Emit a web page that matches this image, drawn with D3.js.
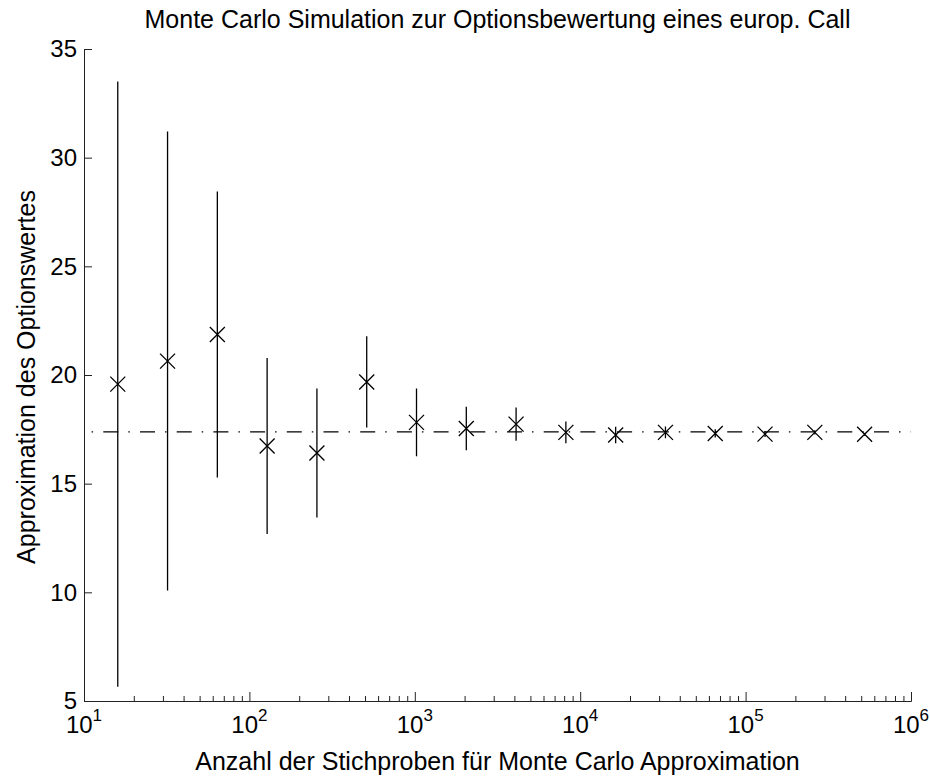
<!DOCTYPE html>
<html>
<head>
<meta charset="utf-8">
<script src="https://cdn.jsdelivr.net/npm/d3@7/dist/d3.min.js"></script>
<style>
  html, body { margin: 0; padding: 0; background: #fff; }
  svg { display: block; font-family: "Liberation Sans", Arial, sans-serif; }
</style>
</head>
<body>
<svg id="chart" width="930" height="776"></svg>
<script>
// Sample sizes (2^4 ... 2^19)
const sampleSizes = [16, 32, 64, 128, 256, 512, 1024, 2048, 4096, 8192,
                     16384, 32768, 65536, 131072, 262144, 524288];
// Monte Carlo estimates of the call price
const estimates = [19.58, 20.64, 21.86, 16.73, 16.41, 19.68, 17.82, 17.54,
                   17.74, 17.36, 17.24, 17.36, 17.31, 17.28, 17.36, 17.27];
// Half-widths of the confidence intervals
const halfWidths = [13.92, 10.56, 6.58, 4.05, 2.97, 2.10, 1.56, 1.00,
                    0.76, 0.50, 0.38, 0.27, 0.19, 0.13, 0.095, 0.067];
// Exact (Black-Scholes) value
const exactValue = 17.38;

const yTicks = [5, 10, 15, 20, 25, 30, 35];
const xMajorExps = [1, 2, 3, 4, 5, 6];

const titleText = "Monte Carlo Simulation zur Optionsbewertung eines europ. Call";
const xLabelText = "Anzahl der Stichproben für Monte Carlo Approximation";
const yLabelText = "Approximation des Optionswertes";

const plotLeft = 84, plotRight = 911, plotTop = 49, plotBottom = 701;
const fontSize = 25;

const svg = d3.select("#chart");
const x = d3.scaleLog().domain([10, 1e6]).range([plotLeft, plotRight]);
const y = d3.scaleLinear().domain([5, 35]).range([plotBottom, plotTop]);

const axisColor = "#222";

// Y axis, ticks pointing inward
const yAxis = svg.append("g")
  .attr("transform", `translate(${plotLeft},0)`)
  .call(d3.axisLeft(y).tickValues(yTicks).tickSize(-8).tickSizeOuter(0).tickPadding(7));
yAxis.selectAll("text").attr("font-size", 24).attr("fill", "#000")
  .attr("font-family", "Liberation Sans, Arial, sans-serif");

// X axis: minor ticks
const minorTicks = [];
for (let e = 1; e < 6; e++) for (let m = 2; m <= 9; m++) minorTicks.push(m * Math.pow(10, e));
svg.append("g")
  .attr("transform", `translate(0,${plotBottom})`)
  .call(d3.axisBottom(x).tickValues(minorTicks).tickSize(-5).tickSizeOuter(0).tickFormat(""));

// X axis: major ticks
const xMajor = xMajorExps.map(e => Math.pow(10, e));
svg.append("g")
  .attr("transform", `translate(0,${plotBottom})`)
  .call(d3.axisBottom(x).tickValues(xMajor).tickSize(-9).tickSizeOuter(0).tickFormat(""));

svg.selectAll(".domain").attr("stroke", axisColor);
svg.selectAll(".tick line").attr("stroke", axisColor);

// Power-of-ten labels
const xl = svg.append("g").attr("font-size", 24).attr("fill", "#000");
xMajorExps.forEach(e => {
  const t = xl.append("text")
    .attr("x", x(Math.pow(10, e)))
    .attr("y", 733)
    .attr("text-anchor", "middle");
  t.append("tspan").text("10");
  t.append("tspan").attr("dy", -12).attr("font-size", 17).text(e);
});

// Reference line at the exact value
svg.append("line")
  .attr("x1", x(10)).attr("x2", x(1e6))
  .attr("y1", y(exactValue)).attr("y2", y(exactValue))
  .attr("stroke", "#000").attr("stroke-width", 1.2)
  .attr("stroke-dasharray", "15,10,1.5,10.2")
  .attr("stroke-dashoffset", 17.4);

// Error bars
const data = sampleSizes.map((n, i) => ({ n, m: estimates[i], h: halfWidths[i] }));
svg.append("g").selectAll("line").data(data).join("line")
  .attr("x1", d => x(d.n)).attr("x2", d => x(d.n))
  .attr("y1", d => y(d.m - d.h)).attr("y2", d => y(d.m + d.h))
  .attr("stroke", "#000").attr("stroke-width", 1.3);

// Cross markers
const s = 7.5;
svg.append("g").selectAll("path").data(data).join("path")
  .attr("transform", d => `translate(${x(d.n)},${y(d.m)})`)
  .attr("d", `M${-s},${-s}L${s},${s}M${-s},${s}L${s},${-s}`)
  .attr("stroke", "#000").attr("stroke-width", 1.3).attr("fill", "none");

// Title and axis labels
svg.append("text")
  .attr("x", (plotLeft + plotRight) / 2).attr("y", 28)
  .attr("text-anchor", "middle").attr("font-size", fontSize)
  .text(titleText);

svg.append("text")
  .attr("x", (plotLeft + plotRight) / 2).attr("y", 770)
  .attr("text-anchor", "middle").attr("font-size", fontSize)
  .text(xLabelText);

svg.append("text")
  .attr("transform", `translate(35,${(plotTop + plotBottom) / 2 + 2}) rotate(-90)`)
  .attr("text-anchor", "middle").attr("font-size", fontSize)
  .text(yLabelText);
</script>
</body>
</html>
